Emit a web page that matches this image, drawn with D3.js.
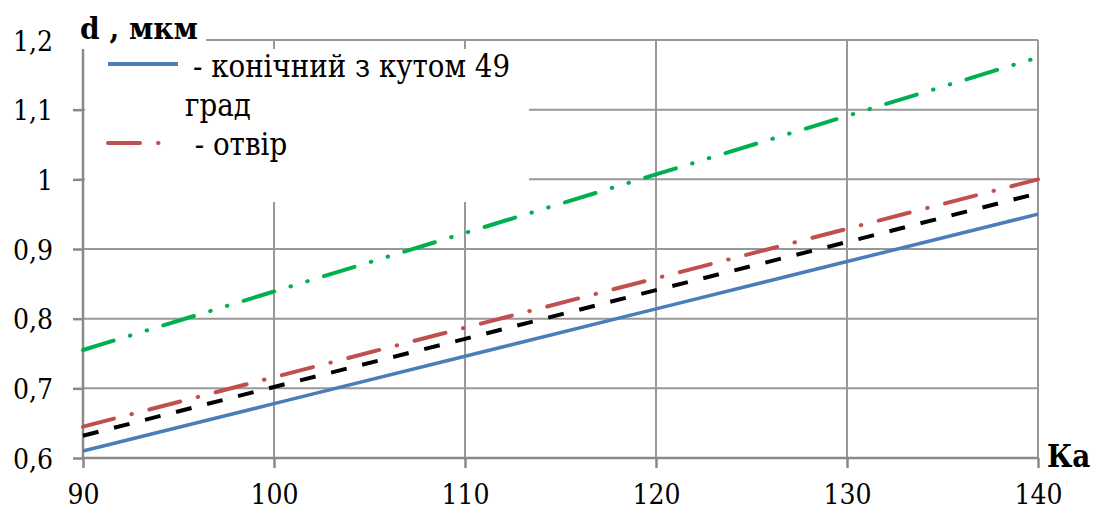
<!DOCTYPE html>
<html><head><meta charset="utf-8">
<script src="https://cdn.jsdelivr.net/npm/d3@7"></script>
<style>
body{margin:0;background:#fff}svg{display:block}
svg text{font-stretch:condensed}
</style>
</head><body>
<svg id="c" width="1094" height="511"></svg>
<script>
const xValues = [90, 100, 110, 120, 130, 140];
const seriesConical = [0.610, 0.678, 0.746, 0.814, 0.882, 0.950];
const seriesBlack   = [0.632, 0.702, 0.771, 0.841, 0.910, 0.980];
const seriesHole    = [0.645, 0.716, 0.787, 0.858, 0.929, 1.000];
const seriesGreen   = [0.755, 0.839, 0.923, 1.007, 1.091, 1.175];
const xTicks = [90, 100, 110, 120, 130, 140];
const yTicks = [0.6, 0.7, 0.8, 0.9, 1.0, 1.1, 1.2];
const legendLabels = ["- конічний з кутом 49", "град", " - отвір"];
const yTitle = "d , мкм";
const xTitle = "Ка";

const FONT = "'DejaVu Serif Condensed', 'DejaVu Serif', serif";
const svg = d3.select("#c");
const x = d3.scaleLinear().domain([90, 140]).range([83, 1038]);
const y = d3.scaleLinear().domain([0.6, 1.2]).range([458, 40]);
const fmt = v => d3.format(".1f")(v).replace(".", ",").replace(/^1,0$/, "1");

// gridlines
const grid = svg.append("g").attr("stroke", "#989898").attr("stroke-width", 2);
grid.selectAll("line.h").data(yTicks.slice(1)).join("line")
  .attr("x1", x(90)).attr("x2", x(140)).attr("y1", d => y(d)).attr("y2", d => y(d));
grid.selectAll("line.v").data(xTicks.slice(1)).join("line")
  .attr("x1", d => x(d)).attr("x2", d => x(d)).attr("y1", y(1.2)).attr("y2", y(0.6));

// axes
const yAxis = svg.append("g").attr("transform", `translate(${x(90)},0)`)
  .call(d3.axisLeft(y).tickValues(yTicks).tickSize(10).tickFormat(fmt));
const xAxis = svg.append("g").attr("transform", `translate(0,${y(0.6)})`)
  .call(d3.axisBottom(x).tickValues(xTicks).tickSize(10).tickFormat(d3.format("d")));
[yAxis, xAxis].forEach(a => {
  a.attr("font-family", FONT).attr("font-size", 28);
  a.select(".domain").attr("stroke", "#8a8a8a").attr("stroke-width", 2.5);
  a.selectAll(".tick line").attr("stroke", "#8a8a8a").attr("stroke-width", 2.5);
  a.selectAll(".tick text").attr("fill", "#000");
});
yAxis.select(".domain").attr("d", `M0,${y(1.2)}V${y(0.6)}`);
xAxis.select(".domain").attr("d", `M${x(90)},0H${x(140)}`);
yAxis.selectAll(".tick text").attr("x", -30).attr("dy", "0.36em");
xAxis.selectAll(".tick text").attr("y", 26).attr("dy", "0.73em");

// lines
const line = d3.line().x((d, i) => x(xValues[i])).y(d => y(d));
const series = [
  {v: seriesConical, c: "#4a7ebb", dash: null, w: 3.5, cap: "butt"},
  {v: seriesBlack, c: "#000", dash: "16,16", w: 4, cap: "butt"},
  {v: seriesHole, c: "#c0504d", dash: "32,18,0.5,18", w: 4, cap: "round"},
  {v: seriesGreen, c: "#00b050", dash: "32,17,0.5,17,0.5,17", w: 4, cap: "round"}
];
svg.append("g").selectAll("path").data(series).join("path")
  .attr("d", d => line(d.v)).attr("fill", "none")
  .attr("stroke", d => d.c).attr("stroke-width", d => d.w)
  .attr("stroke-dasharray", d => d.dash).attr("stroke-linecap", d => d.cap);

// title box and title
svg.append("rect").attr("x", 70).attr("y", 0).attr("width", 136).attr("height", 49).attr("fill", "#fff");
svg.append("text").attr("x", 80).attr("y", 39)
  .attr("font-family", FONT).attr("font-size", 30).attr("font-weight", "bold")
  .attr("textLength", 118).attr("lengthAdjust", "spacingAndGlyphs")
  .text(yTitle);

// legend
const lg = svg.append("g");
lg.append("rect").attr("x", 85).attr("y", 49).attr("width", 444).attr("height", 153).attr("fill", "#fff");
lg.append("line").attr("x1", 108).attr("x2", 178).attr("y1", 64).attr("y2", 64)
  .attr("stroke", series[0].c).attr("stroke-width", 4);
lg.append("line").attr("x1", 108).attr("x2", 162).attr("y1", 143).attr("y2", 143)
  .attr("stroke", series[2].c).attr("stroke-width", 4).attr("stroke-linecap", "round")
  .attr("stroke-dasharray", "32,18,0.5,40");
const lgPos = [[193, 77], [185, 116], [186, 155]];
lg.selectAll("text").data(legendLabels).join("text")
  .attr("x", (d, i) => lgPos[i][0]).attr("y", (d, i) => lgPos[i][1])
  .attr("xml:space", "preserve")
  .attr("font-family", FONT).attr("font-size", 30.8)
  .text(d => d);

// x axis title
svg.append("text").attr("x", 1047).attr("y", 467).text(xTitle)
  .attr("font-family", FONT).attr("font-size", 31).attr("font-weight", "bold");
</script>
</body></html>
